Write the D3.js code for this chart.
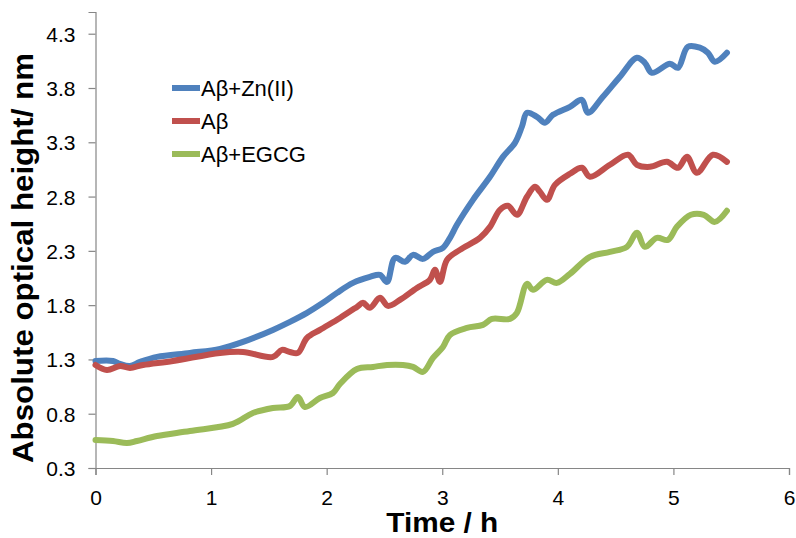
<!DOCTYPE html>
<html>
<head>
<meta charset="utf-8">
<script src="https://cdn.jsdelivr.net/npm/d3@7"></script>
<style>
  html, body { margin: 0; padding: 0; background: #fff; }
  svg { display: block; font-family: Arial, "Liberation Sans", sans-serif; }
</style>
</head>
<body>
<div id="viz"></div>
<script>
// values (time in h, height in nm)
const seriesNames = ['Aβ+Zn(II)', 'Aβ', 'Aβ+EGCG'];
const seriesColors = ['#4F81BD', '#C0504D', '#9BBB59'];

const timeZn = [0.000, 0.151, 0.212, 0.298, 0.385, 0.532, 0.817, 1.077, 1.276, 1.535, 1.682, 1.830, 1.968, 2.089, 2.228, 2.374, 2.461, 2.522, 2.591, 2.677, 2.747, 2.833, 2.920, 3.006, 3.067, 3.127, 3.266, 3.413, 3.525, 3.629, 3.689, 3.733, 3.819, 3.888, 3.958, 4.105, 4.208, 4.260, 4.390, 4.537, 4.684, 4.753, 4.814, 4.970, 5.039, 5.125, 5.229, 5.298, 5.359, 5.463];
const heightZn = [1.286, 1.286, 1.259, 1.240, 1.277, 1.323, 1.360, 1.397, 1.461, 1.572, 1.646, 1.729, 1.821, 1.913, 2.005, 2.060, 2.079, 2.014, 2.235, 2.199, 2.263, 2.226, 2.291, 2.328, 2.420, 2.540, 2.770, 2.982, 3.166, 3.295, 3.443, 3.572, 3.535, 3.480, 3.553, 3.627, 3.691, 3.572, 3.719, 3.904, 4.079, 4.032, 3.940, 4.023, 3.986, 4.180, 4.171, 4.125, 4.042, 4.125];

const timeAb = [0.000, 0.099, 0.212, 0.298, 0.411, 0.670, 1.077, 1.276, 1.535, 1.613, 1.682, 1.751, 1.830, 1.942, 2.115, 2.262, 2.314, 2.374, 2.461, 2.530, 2.634, 2.781, 2.893, 2.937, 2.980, 3.041, 3.153, 3.326, 3.413, 3.499, 3.568, 3.646, 3.733, 3.802, 3.845, 3.906, 3.975, 4.105, 4.208, 4.278, 4.451, 4.607, 4.684, 4.797, 4.944, 5.039, 5.117, 5.203, 5.342, 5.463];
const heightAb = [1.249, 1.203, 1.240, 1.222, 1.249, 1.286, 1.360, 1.369, 1.323, 1.388, 1.369, 1.360, 1.498, 1.572, 1.682, 1.784, 1.821, 1.775, 1.867, 1.793, 1.848, 1.959, 2.033, 2.125, 2.014, 2.217, 2.309, 2.420, 2.521, 2.678, 2.715, 2.632, 2.798, 2.890, 2.844, 2.770, 2.908, 3.010, 3.065, 2.982, 3.093, 3.185, 3.093, 3.074, 3.120, 3.065, 3.166, 3.019, 3.185, 3.120];

const timeEgcg = [0.000, 0.151, 0.272, 0.359, 0.532, 0.817, 1.189, 1.362, 1.535, 1.682, 1.751, 1.812, 1.942, 2.054, 2.115, 2.262, 2.401, 2.522, 2.660, 2.747, 2.833, 2.920, 3.006, 3.067, 3.214, 3.352, 3.430, 3.586, 3.646, 3.733, 3.785, 3.906, 3.992, 4.105, 4.278, 4.451, 4.598, 4.684, 4.753, 4.857, 4.952, 5.030, 5.151, 5.263, 5.359, 5.463];
const heightEgcg = [0.558, 0.549, 0.530, 0.549, 0.595, 0.641, 0.706, 0.807, 0.853, 0.871, 0.954, 0.862, 0.945, 0.991, 1.074, 1.212, 1.231, 1.249, 1.249, 1.231, 1.185, 1.314, 1.415, 1.526, 1.590, 1.618, 1.673, 1.673, 1.729, 1.996, 1.941, 2.033, 2.005, 2.088, 2.245, 2.291, 2.337, 2.466, 2.337, 2.420, 2.401, 2.521, 2.632, 2.632, 2.567, 2.669];

const xTicks = [0, 1, 2, 3, 4, 5, 6];
const yTicks = [0.3, 0.8, 1.3, 1.8, 2.3, 2.8, 3.3, 3.8, 4.3];

const W = 796, H = 538;
const margin = { top: 12, right: 7, bottom: 70, left: 95.5 };
const axisColor = '#868686';

const svg = d3.select('#viz').append('svg')
  .attr('width', W)
  .attr('height', H);

const x = d3.scaleLinear().domain([0, 6]).range([margin.left, W - margin.right]);
const y = d3.scaleLinear().domain([0.3, 4.5]).range([H - margin.bottom, margin.top]);

// axes
const xAxis = svg.append('g')
  .attr('transform', `translate(0,${y(0.3)})`)
  .call(d3.axisBottom(x).tickValues(xTicks).tickSize(7).tickPadding(14).tickFormat(d3.format('d')));
const yAxis = svg.append('g')
  .attr('transform', `translate(${x(0)},0)`)
  .call(d3.axisLeft(y).tickValues(yTicks).tickSize(7).tickPadding(13).tickFormat(d3.format('.1f')));

[xAxis, yAxis].forEach(g => {
  g.select('.domain').attr('stroke', axisColor).attr('stroke-width', 1.2);
  g.selectAll('.tick line').attr('stroke', axisColor).attr('stroke-width', 1.2);
  g.selectAll('.tick text')
    .attr('fill', '#000')
    .style('font-family', 'Arial, "Liberation Sans", sans-serif')
    .style('font-size', '21px');
});
yAxis.selectAll('.tick text').attr('dy', '0.36em');
xAxis.selectAll('.tick text').attr('dy', '0.74em');

// axis titles
svg.append('text')
  .attr('x', x(3))
  .attr('y', 532)
  .attr('text-anchor', 'middle')
  .attr('textLength', 112)
  .attr('lengthAdjust', 'spacingAndGlyphs')
  .style('font-size', '28px')
  .style('font-weight', 'bold')
  .text('Time / h');

svg.append('text')
  .attr('transform', `translate(33,258) rotate(-90)`)
  .attr('text-anchor', 'middle')
  .attr('textLength', 410)
  .attr('lengthAdjust', 'spacingAndGlyphs')
  .style('font-size', '29px')
  .style('font-weight', 'bold')
  .text('Absolute optical height/ nm');

// lines
const series = [
  { t: timeZn, v: heightZn },
  { t: timeAb, v: heightAb },
  { t: timeEgcg, v: heightEgcg }
];

const line = d3.line()
  .x(d => x(d[0]))
  .y(d => y(d[1]))
  .curve(d3.curveCatmullRom.alpha(0.5));

series.forEach((s, i) => {
  svg.append('path')
    .datum(d3.zip(s.t, s.v))
    .attr('fill', 'none')
    .attr('stroke', seriesColors[i])
    .attr('stroke-width', 6)
    .attr('stroke-linecap', 'round')
    .attr('stroke-linejoin', 'round')
    .attr('d', line);
});

// legend
const legend = svg.append('g').attr('transform', 'translate(172,88)');
seriesNames.forEach((name, i) => {
  const row = legend.append('g').attr('transform', `translate(0,${i * 33})`);
  row.append('line')
    .attr('x1', 0).attr('x2', 28)
    .attr('stroke', seriesColors[i])
    .attr('stroke-width', 6);
  row.append('text')
    .attr('x', 29)
    .attr('y', 0)
    .attr('dy', '0.36em')
    .style('font-size', '22px')
    .text(name);
});
</script>
</body>
</html>
